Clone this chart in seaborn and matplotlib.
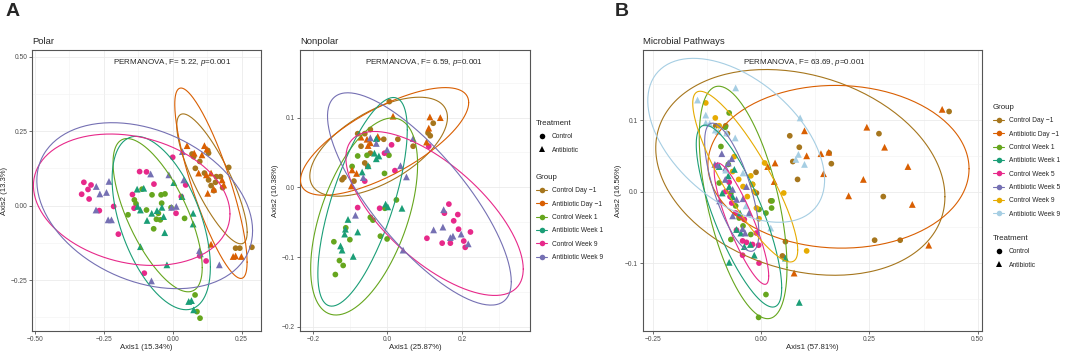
import numpy as np
import pandas as pd
import seaborn as sns
import matplotlib
matplotlib.use("Agg")
import matplotlib.pyplot as plt
from matplotlib.lines import Line2D
from matplotlib.ticker import MultipleLocator, FixedLocator

# ---- colours (Dark2 + light blue) ----
BROWN, ORANGE, GREEN, TEAL = "#A6761D", "#D95F02", "#66A61E", "#1B9E77"
PINK, PURPLE, YELLOW, LBLUE = "#E7298A", "#7570B3", "#E6AB02", "#A6CEE3"

GROUPS_6 = ["Control Day −1", "Antibiotic Day −1", "Control Week 1",
            "Antibiotic Week 1", "Control Week 9", "Antibiotic Week 9"]
COLORS_6 = [BROWN, ORANGE, GREEN, TEAL, PINK, PURPLE]
GROUPS_8 = ["Control Day −1", "Antibiotic Day −1", "Control Week 1", "Antibiotic Week 1",
            "Control Week 5", "Antibiotic Week 5", "Control Week 9", "Antibiotic Week 9"]
COLORS_8 = [BROWN, ORANGE, GREEN, TEAL, PINK, PURPLE, YELLOW, LBLUE]

# ---- Polar (panel A left) ----
polar_ctrl_d1 = [(0.070, 0.173), (0.076, 0.164), (0.098, 0.148), (0.130, 0.176), (0.082, 0.125),
                 (0.115, 0.109), (0.158, 0.097), (0.173, 0.097), (0.155, 0.078), (0.130, 0.086),
                 (0.139, 0.067), (0.181, 0.060), (0.149, 0.050), (0.203, 0.128), (0.228, -0.143),
                 (0.243, -0.143), (0.287, -0.140), (0.127, 0.185)]
polar_abx_d1 = [(0.052, 0.201), (0.078, 0.176), (0.115, 0.201), (0.124, 0.189), (0.106, 0.170),
                (0.094, 0.109), (0.122, 0.103), (0.139, 0.109), (0.127, 0.041), (0.149, 0.055),
                (0.185, 0.069), (0.179, 0.086), (0.139, -0.130), (0.219, -0.171), (0.228, -0.169),
                (0.249, -0.171)]
polar_ctrl_w1 = [(-0.111, 0.055), (-0.139, 0.019), (-0.133, 0.006), (-0.095, -0.015), (-0.075, 0.036),
                 (-0.069, -0.078), (-0.052, -0.026), (-0.059, -0.046), (-0.040, 0.008), (-0.042, 0.036),
                 (-0.028, 0.039), (-0.006, -0.007), (-0.045, -0.048), (0.043, -0.043), (-0.162, -0.031),
                 (0.081, -0.300), (0.088, -0.356), (0.099, -0.378)]
polar_abx_w1 = [(-0.129, 0.055), (-0.105, 0.058), (-0.127, -0.003), (-0.117, -0.015), (-0.093, -0.050),
                (-0.076, -0.026), (-0.033, -0.037), (-0.029, -0.091), (-0.117, -0.138), (-0.021, -0.199),
                (0.004, 0.077), (0.034, 0.030), (0.074, -0.026), (0.074, -0.062), (0.058, -0.322),
                (0.068, -0.319), (0.076, -0.350), (-0.039, -0.006), (-0.057, -0.017)]
polar_ctrl_w9 = [(-0.296, 0.069), (-0.322, 0.078), (-0.307, 0.054), (-0.330, 0.038), (-0.303, 0.022),
                 (-0.266, -0.017), (-0.214, -0.003), (-0.197, -0.096), (-0.120, 0.114), (-0.095, 0.113),
                 (-0.068, 0.072), (-0.146, 0.037), (-0.140, -0.009), (0.000, 0.162), (0.031, 0.030),
                 (0.047, 0.069), (0.012, -0.026), (0.098, -0.169), (0.121, -0.186), (-0.103, -0.227)]
polar_abx_w9 = [(-0.277, 0.064), (-0.264, 0.039), (-0.231, 0.081), (-0.240, 0.044), (-0.278, -0.015),
                (-0.234, -0.048), (-0.222, -0.048), (-0.080, 0.106), (-0.014, 0.103), (0.040, 0.086),
                (-0.004, -0.006), (0.013, -0.003), (0.097, -0.151), (0.100, -0.162), (0.169, -0.199),
                (-0.077, -0.253), (0.035, 0.181)]

# ---- Nonpolar (panel A right) ----
nonpolar_ctrl_d1 = [(0.005, 0.123), (-0.080, 0.077), (-0.061, 0.077), (-0.046, 0.083), (-0.071, 0.059),
                    (-0.046, 0.049), (-0.061, 0.035), (-0.053, 0.030), (-0.117, 0.014), (-0.122, 0.011),
                    (-0.090, 0.009), (-0.026, 0.069), (-0.010, 0.069), (0.028, 0.069), (0.069, 0.059),
                    (0.109, 0.078), (0.123, 0.092), (0.115, 0.074)]
nonpolar_abx_d1 = [(0.015, 0.102), (0.114, 0.101), (0.142, 0.100), (0.111, 0.085), (0.105, 0.065),
                   (-0.071, 0.072), (-0.052, 0.060), (-0.046, 0.064), (-0.095, 0.025), (-0.083, 0.020),
                   (-0.097, 0.002), (-0.026, 0.073), (-0.055, 0.069)]
nonpolar_ctrl_w1 = [(-0.080, 0.045), (-0.095, 0.030), (-0.055, 0.046), (-0.008, 0.020), (0.004, 0.046),
                    (-0.046, -0.043), (-0.039, -0.047), (-0.019, -0.070), (-0.001, -0.074), (0.024, -0.018),
                    (-0.007, -0.030), (-0.144, -0.078), (-0.101, -0.075), (-0.112, -0.058), (-0.129, -0.105),
                    (-0.119, -0.112), (-0.140, -0.125)]
nonpolar_abx_w1 = [(-0.068, 0.022), (-0.052, 0.031), (-0.035, 0.049), (-0.030, 0.041), (-0.023, 0.045),
                   (-0.030, 0.070), (-0.005, -0.024), (0.001, -0.028), (0.039, -0.030), (-0.113, -0.060),
                   (-0.115, -0.067), (-0.126, -0.084), (-0.122, -0.090), (-0.092, -0.099), (-0.106, -0.046),
                   (-0.080, -0.064)]
nonpolar_ctrl_w9 = [(0.011, 0.061), (-0.008, 0.049), (0.020, 0.024), (-0.061, 0.009), (-0.080, -0.029),
                    (-0.021, -0.030), (0.165, -0.024), (0.153, -0.037), (0.178, -0.048), (0.191, -0.060),
                    (0.189, -0.039), (0.106, -0.073), (0.169, -0.080), (0.147, -0.080), (0.223, -0.064),
                    (0.209, -0.086), (0.205, -0.077), (0.111, 0.059)]
nonpolar_abx_w9 = [(-0.046, 0.071), (-0.030, 0.063), (-0.065, 0.014), (-0.001, 0.054), (0.035, 0.031),
                   (0.051, 0.015), (0.069, 0.070), (-0.086, -0.040), (0.042, -0.090), (0.151, -0.032),
                   (0.124, -0.061), (0.149, -0.057), (0.169, -0.072), (0.198, -0.067), (0.217, -0.081),
                   (0.176, -0.070)]

# ---- Microbial pathways (panel B) ----
path_ctrl_d1 = [(-0.105, 0.092), (-0.082, 0.092), (-0.078, 0.081), (0.066, 0.078), (0.088, 0.062),
                (0.073, 0.042), (0.084, 0.017), (0.157, 0.054), (0.162, 0.039), (0.272, 0.081),
                (0.282, -0.007), (0.262, -0.068), (0.321, -0.068), (0.434, 0.112), (-0.012, 0.027),
                (0.022, -0.013), (0.056, -0.070), (0.049, -0.090), (-0.011, -0.002)]
path_abx_d1 = [(0.100, 0.085), (0.105, 0.050), (0.138, 0.053), (0.156, 0.055), (0.144, 0.025),
               (0.244, 0.090), (0.285, 0.062), (0.236, 0.017), (0.202, -0.006), (0.339, 0.035),
               (0.349, -0.018), (0.387, -0.075), (0.418, 0.115), (0.032, 0.040), (0.015, 0.035),
               (0.030, 0.014), (0.076, -0.114)]
path_ctrl_w1 = [(-0.074, 0.110), (-0.083, 0.090), (-0.093, 0.063), (-0.097, 0.012), (-0.070, -0.002),
                (-0.059, -0.020), (-0.051, -0.037), (-0.020, 0.010), (-0.005, -0.025), (0.011, -0.030),
                (0.024, -0.023), (0.025, -0.013), (-0.070, -0.067), (-0.042, -0.048), (-0.006, -0.176),
                (0.011, -0.144), (-0.024, -0.060), (-0.076, 0.038)]
path_abx_w1 = [(-0.097, 0.035), (-0.076, 0.022), (-0.074, 0.007), (-0.066, -0.007), (-0.049, -0.030),
               (-0.047, -0.058), (-0.039, -0.077), (-0.025, -0.074), (-0.016, -0.089), (-0.074, -0.099),
               (0.056, -0.093), (0.088, -0.155), (-0.062, 0.031), (-0.057, -0.053), (-0.090, -0.002)]
path_ctrl_w5 = [(-0.074, 0.013), (-0.082, 0.000), (-0.068, -0.016), (-0.059, -0.030), (-0.049, -0.034),
                (-0.039, -0.039), (-0.057, -0.054), (-0.043, -0.069), (-0.034, -0.071), (-0.020, -0.074),
                (-0.006, -0.075), (-0.005, -0.100), (-0.043, -0.089), (-0.011, -0.058), (-0.072, -0.007)]
path_abx_w5 = [(-0.107, 0.038), (-0.091, 0.053), (-0.101, 0.037), (-0.076, 0.040), (-0.068, 0.046),
               (-0.082, 0.033), (-0.083, 0.017), (-0.066, 0.003), (-0.057, -0.011), (-0.096, -0.013),
               (-0.066, -0.034), (-0.043, -0.052), (-0.037, -0.058), (-0.042, -0.010), (-0.028, -0.030),
               (-0.034, 0.007)]
path_ctrl_w9 = [(-0.128, 0.124), (-0.106, 0.103), (-0.097, 0.092), (0.008, 0.040), (0.052, -0.002),
                (-0.020, 0.010), (-0.016, 0.000), (-0.011, -0.023), (-0.005, -0.038), (0.105, -0.083),
                (-0.066, 0.028), (-0.052, 0.017), (-0.042, 0.007), (-0.032, -0.007), (-0.062, 0.049),
                (-0.024, 0.022)]
path_abx_w9 = [(-0.147, 0.128), (-0.059, 0.145), (-0.128, 0.107), (-0.119, 0.095), (-0.106, 0.086),
               (-0.099, 0.084), (-0.080, 0.082), (-0.060, 0.075), (0.090, 0.103), (0.086, 0.052),
               (0.100, 0.038), (0.080, 0.045), (-0.082, 0.030), (-0.042, 0.026), (-0.035, -0.020),
               (0.022, -0.051), (-0.128, 0.096)]

POLAR = [polar_ctrl_d1, polar_abx_d1, polar_ctrl_w1, polar_abx_w1, polar_ctrl_w9, polar_abx_w9]
NONPOLAR = [nonpolar_ctrl_d1, nonpolar_abx_d1, nonpolar_ctrl_w1, nonpolar_abx_w1,
            nonpolar_ctrl_w9, nonpolar_abx_w9]
PATHWAYS = [path_ctrl_d1, path_abx_d1, path_ctrl_w1, path_abx_w1,
            path_ctrl_w5, path_abx_w5, path_ctrl_w9, path_abx_w9]


sns.set_style("white")
plt.rcParams["font.family"] = ["Liberation Sans", "DejaVu Sans"]
plt.rcParams["mathtext.fontset"] = "custom"
plt.rcParams["mathtext.rm"] = "Liberation Sans"
plt.rcParams["mathtext.it"] = "Liberation Sans:italic"


def cov_trob(pts, nu=5, maxit=25, tol=0.01):
    # robust multivariate-t location/scatter (same idea as MASS::cov.trob)
    n, p = pts.shape
    wt = np.ones(n)
    loc = pts.mean(axis=0)
    w = np.sqrt(wt)
    for _ in range(maxit):
        w0 = w
        X = pts - loc
        _, d, vt = np.linalg.svd(np.sqrt(w / w.sum())[:, None] * X, full_matrices=False)
        wX = X @ vt.T @ np.diag(1 / d)
        Q = (wX ** 2).sum(axis=1)
        w = wt * (nu + p) / (nu + Q)
        loc = (w[:, None] * pts).sum(axis=0) / w.sum()
        if np.all(np.abs(w - w0) < tol):
            break
    cov = (np.sqrt(w)[:, None] * X).T @ (np.sqrt(w)[:, None] * X) / wt.sum()
    return loc, cov


def conf_ellipse(xs, ys, level=0.95, n=200):
    # like ggplot stat_ellipse(type = "t")
    pts = np.column_stack([xs, ys])
    d = len(pts) - 1
    fq = d / 2 * ((1 - level) ** (-2 / d) - 1)
    r = np.sqrt(2 * fq)
    center, shape = cov_trob(pts)
    chol = np.linalg.cholesky(shape)
    t = np.linspace(0, 2 * np.pi, n)
    circ = np.column_stack([np.cos(t), np.sin(t)])
    e = center + r * circ @ chol.T
    return e[:, 0], e[:, 1]


def fmt(v, nd):
    return f"{v:.{nd}f}".replace("-", "−")


def draw_panel(ax, groups, colors, data, title, stat, stat_x, xlabel, ylabel,
               xlim, ylim, xticks, yticks, nd_x, nd_y):
    rows = []
    for g, pts in zip(groups, data):
        treat = "Control" if g.startswith("Control") else "Antibiotic"
        for x, y in pts:
            rows.append({"x": x, "y": y, "group": g, "treatment": treat})
    df = pd.DataFrame(rows)
    pal = dict(zip(groups, colors))

    sns.scatterplot(data=df[df.treatment == "Control"], x="x", y="y", hue="group",
                    palette=pal, marker="o", s=17, linewidth=0, legend=False, ax=ax, zorder=3)
    sns.scatterplot(data=df[df.treatment == "Antibiotic"], x="x", y="y", hue="group",
                    palette=pal, marker="^", s=24, linewidth=0, legend=False, ax=ax, zorder=3)

    for g, c in zip(groups, colors):
        sub = df[df.group == g]
        ex, ey = conf_ellipse(sub.x.values, sub.y.values)
        ax.plot(ex, ey, color=c, lw=0.8, zorder=4)

    ax.set_xlim(*xlim)
    ax.set_ylim(*ylim)
    ax.xaxis.set_major_locator(FixedLocator(xticks))
    ax.yaxis.set_major_locator(FixedLocator(yticks))
    ax.set_xticklabels([fmt(v, nd_x) for v in xticks])
    ax.set_yticklabels([fmt(v, nd_y) for v in yticks])
    ax.xaxis.set_minor_locator(MultipleLocator((xticks[1] - xticks[0]) / 2))
    ax.yaxis.set_minor_locator(MultipleLocator((yticks[1] - yticks[0]) / 2))
    ax.grid(True, which="major", color="#EBEBEB", lw=0.6, zorder=0)
    ax.grid(True, which="minor", color="#F2F2F2", lw=0.4, zorder=0)
    ax.set_axisbelow(True)
    ax.tick_params(axis="both", which="major", length=2, width=0.5, color="#333333",
                   labelsize=4.8, labelcolor="#4D4D4D", pad=1.5, bottom=True, left=True)
    ax.tick_params(axis="both", which="minor", length=0)
    for sp in ax.spines.values():
        sp.set_color("#555555")
        sp.set_linewidth(0.8)
    ax.set_xlabel(xlabel, fontsize=5.6, labelpad=1)
    ax.set_ylabel(ylabel, fontsize=5.6, labelpad=2)
    ax.set_title(title, loc="left", fontsize=6.8, pad=4)
    ax.text(stat_x, 0.955, stat, transform=ax.transAxes, ha="center", va="center",
            fontsize=5.8, zorder=5)


def make_legend(fig, title, handles, labels, x_px, y_px):
    leg = fig.legend(handles, labels, title=title, loc="upper left",
                     bbox_to_anchor=(x_px / 1065, 1 - y_px / 352), frameon=False,
                     fontsize=4.8, title_fontsize=5.7, alignment="left",
                     handlelength=1.7, handletextpad=0.7, labelspacing=0.95,
                     borderpad=0, borderaxespad=0)
    return leg


fig = plt.figure(figsize=(10.65, 3.52), dpi=100)
ax1 = fig.add_axes([32 / 1065, 21 / 352, 229 / 1065, 281 / 352])
ax2 = fig.add_axes([300 / 1065, 21 / 352, 230 / 1065, 281 / 352])
ax3 = fig.add_axes([643 / 1065, 21 / 352, 339 / 1065, 281 / 352])

draw_panel(ax1, GROUPS_6, COLORS_6, POLAR, "Polar",
           "PERMANOVA, F= 5.22, $p$=0.001", 0.61, "Axis1 (15.34%)", "Axis2 (13.3%)",
           (-0.51, 0.32), (-0.421, 0.522), [-0.50, -0.25, 0.00, 0.25],
           [-0.25, 0.00, 0.25, 0.50], 2, 2)
draw_panel(ax2, GROUPS_6, COLORS_6, NONPOLAR, "Nonpolar",
           "PERMANOVA, F= 6.59, $p$=0.001", 0.54, "Axis1 (25.87%)", "Axis2 (10.38%)",
           (-0.235, 0.383), (-0.206, 0.197), [-0.2, 0.0, 0.2],
           [-0.2, -0.1, 0.0, 0.1], 1, 1)
draw_panel(ax3, GROUPS_8, COLORS_8, PATHWAYS, "Microbial Pathways",
           "PERMANOVA, F= 63.69, $p$=0.001", 0.475, "Axis1 (57.81%)", "Axis2 (16.56%)",
           (-0.273, 0.51), (-0.195, 0.198), [-0.25, 0.00, 0.25, 0.50],
           [-0.1, 0.0, 0.1], 2, 1)

treat_handles = [Line2D([], [], marker="o", ls="", color="black", markersize=4, mew=0),
                 Line2D([], [], marker="^", ls="", color="black", markersize=4.6, mew=0)]
treat_labels = ["Control", "Antibiotic"]


def group_handles(colors):
    return [Line2D([], [], marker="o", color=c, lw=0.8, markersize=4, mew=0) for c in colors]


make_legend(fig, "Treatment", treat_handles, treat_labels, 536, 120)
make_legend(fig, "Group", group_handles(COLORS_6), GROUPS_6, 536, 174)
make_legend(fig, "Group", group_handles(COLORS_8), GROUPS_8, 993, 104)
make_legend(fig, "Treatment", treat_handles, treat_labels, 993, 235)

fig.text(6 / 1065, 1 - 11 / 352, "A", fontsize=14, fontweight="bold", va="center", ha="left")
fig.text(615 / 1065, 1 - 11 / 352, "B", fontsize=14, fontweight="bold", va="center", ha="left")

fig.savefig("out.png", dpi=100)
